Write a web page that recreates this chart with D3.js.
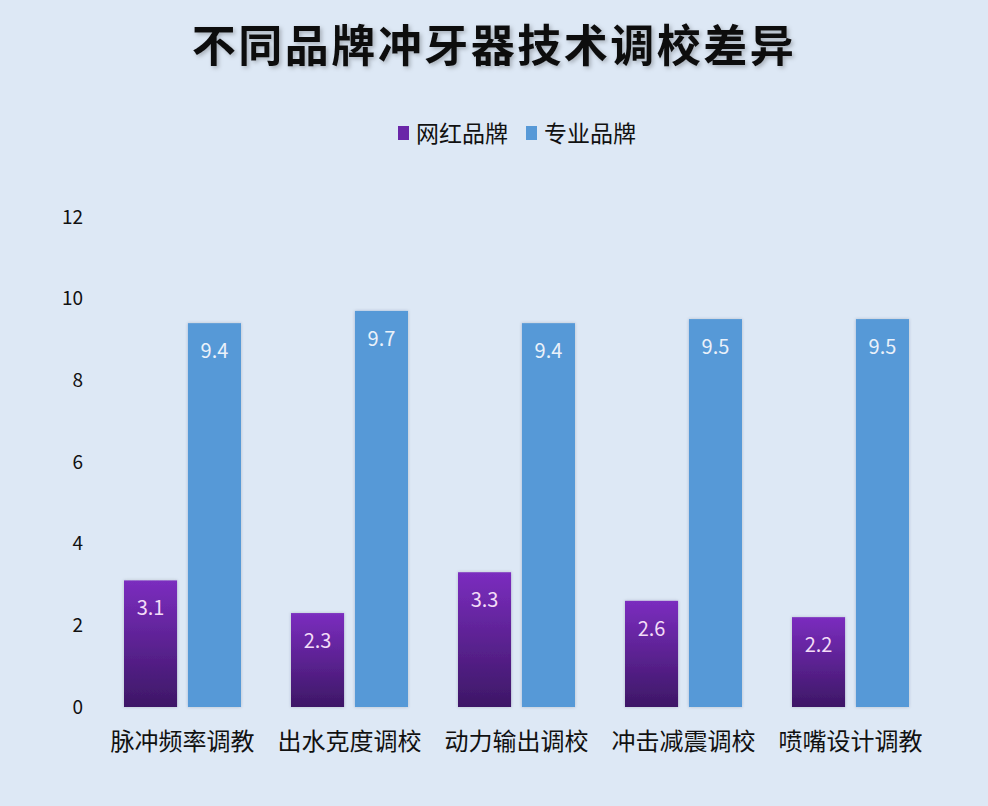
<!DOCTYPE html>
<html>
<head>
<meta charset="utf-8">
<script src="https://cdn.jsdelivr.net/npm/d3@7"></script>
<style>
  body { margin: 0; background: #dde8f5; }
  svg { display: block; }
</style>
</head>
<body>
<svg id="chart" width="988" height="806"></svg>
<script>
// chart data
var categories = ["脉冲频率调教", "出水克度调校", "动力输出调校", "冲击减震调校", "喷嘴设计调教"];
var seriesNames = ["网红品牌", "专业品牌"];
var netBrand = [3.1, 2.3, 3.3, 2.6, 2.2];
var proBrand = [9.4, 9.7, 9.4, 9.5, 9.5];
var yTicks = [0, 2, 4, 6, 8, 10, 12];

var svg = d3.select("#chart");
var font = "'Noto Sans CJK SC', 'Noto Sans', sans-serif";

svg.append("rect").attr("width", 988).attr("height", 806).attr("fill", "#dde8f5");

// gradient for purple bars
var defs = svg.append("defs");
var grad = defs.append("linearGradient").attr("id", "purple")
  .attr("x1", 0).attr("y1", 0).attr("x2", 0).attr("y2", 1);
grad.append("stop").attr("offset", "0%").attr("stop-color", "#7b2dbf");
grad.append("stop").attr("offset", "100%").attr("stop-color", "#3d1766");

var shadow = defs.append("filter").attr("id", "shadow")
  .attr("x", "-10%").attr("y", "-10%").attr("width", "130%").attr("height", "130%");
shadow.append("feDropShadow").attr("dx", 2).attr("dy", 2).attr("stdDeviation", 2)
  .attr("flood-color", "#000").attr("flood-opacity", 0.25);

var barShadow = defs.append("filter").attr("id", "barShadow")
  .attr("x", "-20%").attr("y", "-5%").attr("width", "140%").attr("height", "110%");
barShadow.append("feDropShadow").attr("dx", 0).attr("dy", 0).attr("stdDeviation", 1.5)
  .attr("flood-color", "#334").attr("flood-opacity", 0.25);

// title
svg.append("text")
  .attr("x", 494).attr("y", 62)
  .attr("text-anchor", "middle")
  .attr("font-family", font)
  .attr("font-weight", 700)
  .attr("font-size", 44)
  .attr("letter-spacing", 2.5)
  .attr("fill", "#111")
  .attr("filter", "url(#shadow)")
  .text("不同品牌冲牙器技术调校差异");

// scales
var x0 = d3.scaleBand().domain(categories).range([99, 934]).paddingInner(0).paddingOuter(0);
var x1 = d3.scaleBand().domain(seriesNames).range([25, 142]).paddingInner(0.17);
var y = d3.scaleLinear().domain([0, 12]).range([707, 217]);

var colors = { "网红品牌": "url(#purple)", "专业品牌": "#5799d7" };
var labelColors = { "网红品牌": "#f3dcf7", "专业品牌": "#eaf1fa" };

// y axis
var yAxis = d3.axisLeft(y).tickValues(yTicks).tickSize(0).tickPadding(0);
var ya = svg.append("g").attr("transform", "translate(83,0)").call(yAxis);
ya.select(".domain").remove();
ya.selectAll("text")
  .attr("font-family", font)
  .attr("font-size", 19)
  .attr("fill", "#111");

// bars
var rows = categories.map(function(c, i) {
  return { cat: c, vals: [
    { name: seriesNames[0], v: netBrand[i] },
    { name: seriesNames[1], v: proBrand[i] }
  ] };
});

var groups = svg.selectAll("g.group").data(rows).enter().append("g")
  .attr("class", "group")
  .attr("transform", function(d) { return "translate(" + x0(d.cat) + ",0)"; });

groups.selectAll("rect").data(function(d) { return d.vals; }).enter().append("rect")
  .attr("x", function(d) { return x1(d.name); })
  .attr("y", function(d) { return y(d.v); })
  .attr("width", x1.bandwidth())
  .attr("height", function(d) { return y(0) - y(d.v); })
  .attr("fill", function(d) { return colors[d.name]; })
  .attr("filter", "url(#barShadow)");

groups.selectAll("text.val").data(function(d) { return d.vals; }).enter().append("text")
  .attr("class", "val")
  .attr("x", function(d) { return x1(d.name) + x1.bandwidth() / 2; })
  .attr("y", function(d) { return y(d.v) + 35; })
  .attr("text-anchor", "middle")
  .attr("font-family", font)
  .attr("font-size", 20)
  .attr("fill", function(d) { return labelColors[d.name]; })
  .text(function(d) { return d.v.toFixed(1); });

// category labels
svg.selectAll("text.cat").data(categories).enter().append("text")
  .attr("class", "cat")
  .attr("x", function(d) { return x0(d) + x0.bandwidth() / 2; })
  .attr("y", 750)
  .attr("text-anchor", "middle")
  .attr("font-family", font)
  .attr("font-size", 24)
  .attr("fill", "#111")
  .text(function(d) { return d; });

// legend
var legend = [
  { name: seriesNames[0], x: 398, color: "#6a26a8" },
  { name: seriesNames[1], x: 526, color: "#5799d7" }
];
var lg = svg.selectAll("g.legend").data(legend).enter().append("g")
  .attr("class", "legend")
  .attr("transform", function(d) { return "translate(" + d.x + ",0)"; });
lg.append("rect").attr("x", 0).attr("y", 126).attr("width", 11).attr("height", 14)
  .attr("fill", function(d) { return d.color; });
lg.append("text").attr("x", 18).attr("y", 142)
  .attr("font-family", font)
  .attr("font-size", 23)
  .attr("fill", "#111")
  .text(function(d) { return d.name; });
</script>
</body>
</html>
